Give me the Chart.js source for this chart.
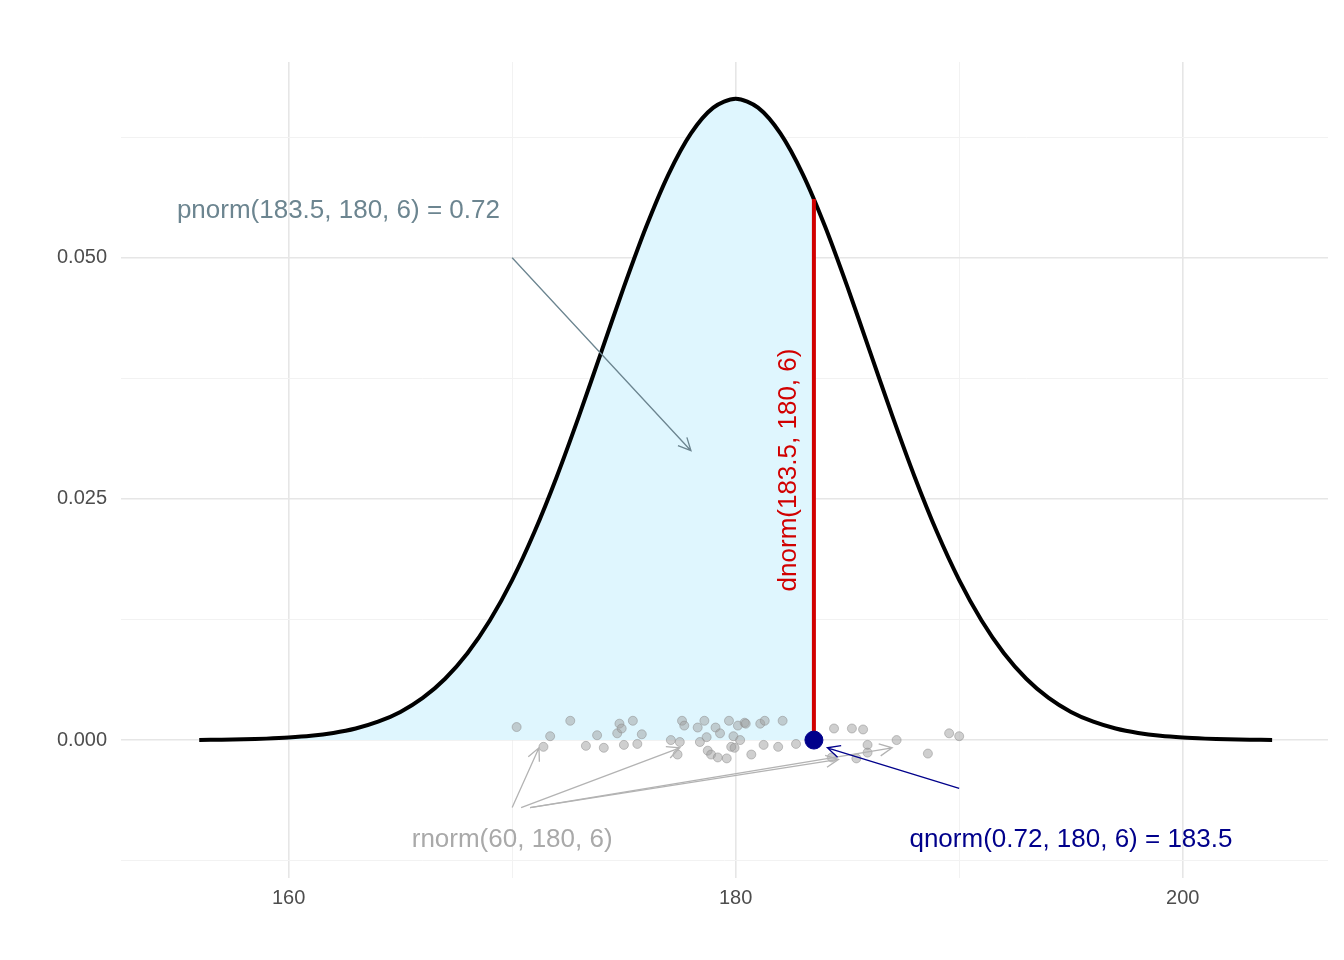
<!DOCTYPE html>
<html>
<head>
<meta charset="utf-8">
<script src="https://cdn.jsdelivr.net/npm/chart.js@4"></script>
<style>
  html, body { margin: 0; padding: 0; background: #fff; }
  #wrap { width: 1344px; height: 960px; }
</style>
</head>
<body>
<div id="wrap"><canvas id="chart" width="1344" height="960"></canvas></div>
<script>
// density curve (x = height, y = density)
const curveX = [156,157,158,159,160,161,162,163,164,165,166,167,168,169,170,171,172,173,174,175,176,177,178,179,180,
    181,182,183,184,185,186,187,188,189,190,191,192,193,194,195,196,197,198,199,200,201,202,203,204];
const curveY = [0.00002,0.00004,0.00008,0.00015,0.00026,0.00044,0.00074,0.00120,0.00190,0.00292,0.00437,0.00636,0.00900,
    0.01239,0.01658,0.02159,0.02733,0.03366,0.04033,0.04698,0.05324,0.05868,0.06290,0.06557,0.06649,
    0.06557,0.06290,0.05868,0.05324,0.04698,0.04033,0.03366,0.02733,0.02159,0.01658,0.01239,0.00900,0.00636,
    0.00437,0.00292,0.00190,0.00120,0.00074,0.00044,0.00026,0.00015,0.00008,0.00004,0.00002];
const cutX = 183.5;
const cutY = 0.05609;

// jittered sample points
const sampleX = [170.2,171.7,171.4,172.6,173.3,173.8,174.1,174.7,174.8,174.9,175.0,175.4,175.6,175.8,177.1,177.5,177.6,177.7,
    177.4,178.3,178.4,178.6,178.7,178.75,178.9,179.1,179.3,179.2,179.6,179.7,179.8,179.9,179.95,180.1,180.2,180.4,180.45,
    180.7,181.1,181.25,181.3,181.9,182.1,182.7,184.4,184.3,185.2,185.7,185.4,185.9,185.9,187.2,188.6,189.55,190.0];
const sampleY = [0.00135,0.0004,-0.0007,0.002,-0.0006,0.0005,-0.0008,0.0007,0.0017,0.0012,-0.0005,0.002,-0.0004,0.0006,0,
    -0.0002,0.002,0.0015,-0.0015,0.0013,-0.0002,0.002,0.0003,-0.0011,-0.0015,0.0013,0.0007,-0.0018,-0.0019,0.002,-0.0007,
    0.0004,-0.0008,0.0015,0,0.0018,0.0017,-0.0015,0.0017,-0.0005,0.002,-0.0007,0.002,-0.0004,0.0012,-0.0018,0.0012,0.0011,
    -0.0019,-0.0005,-0.0013,0,-0.0014,0.0007,0.0004];

const xTicks = [160, 180, 200];
const yTicks = [0, 0.025, 0.05];

// annotations: [x1, y1, x2, y2, colour]
const arrows = [
    [170, 0.050, 178.0, 0.0300, '#6c8590'],
    [170, -0.0070, 171.2, -0.0008, '#b3b3b3'],
    [170.4, -0.0070, 177.5, -0.0008, '#b3b3b3'],
    [170.8, -0.0070, 184.6, -0.0020, '#b3b3b3'],
    [170.8, -0.0070, 187.0, -0.0008, '#b3b3b3'],
    [190, -0.0050, 184.1, -0.0008, '#00008b'],
];
const labels = [
    ['pnorm(183.5, 180, 6) = 0.72', 155, 0.0549, '#6c8590', 'left', 0],
    ['rnorm(60, 180, 6)', 170, -0.0103, '#a9a9a9', 'center', 0],
    ['qnorm(0.72, 180, 6) = 183.5', 195, -0.0103, '#00008b', 'center', 0],
    ['dnorm(183.5, 180, 6)', 182.4, 0.028, '#d10000', 'center', -Math.PI / 2],
];

const shadeData = curveX.filter((x) => x <= cutX).map((x, i) => ({ x, y: curveY[i] }));
shadeData.push({ x: cutX, y: cutY });

const annotate = {
    id: 'annotate',
    afterDatasetsDraw(chart) {
        const { ctx, scales: { x, y } } = chart;
        ctx.save();
        arrows.forEach(([x1, y1, x2, y2, col]) => {
            const a = x.getPixelForValue(x1), b = y.getPixelForValue(y1);
            const c = x.getPixelForValue(x2), d = y.getPixelForValue(y2);
            const ang = Math.atan2(d - b, c - a);
            ctx.strokeStyle = col;
            ctx.lineWidth = 1.3;
            ctx.beginPath();
            ctx.moveTo(a, b);
            ctx.lineTo(c, d);
            ctx.moveTo(c - 14 * Math.cos(ang - 0.45), d - 14 * Math.sin(ang - 0.45));
            ctx.lineTo(c, d);
            ctx.lineTo(c - 14 * Math.cos(ang + 0.45), d - 14 * Math.sin(ang + 0.45));
            ctx.stroke();
        });
        ctx.font = '26px "Liberation Sans", Arial, sans-serif';
        ctx.textBaseline = 'middle';
        labels.forEach(([txt, lx, ly, col, align, rot]) => {
            ctx.save();
            ctx.translate(x.getPixelForValue(lx), y.getPixelForValue(ly));
            ctx.rotate(rot);
            ctx.fillStyle = col;
            ctx.textAlign = align;
            ctx.fillText(txt, 0, 0);
            ctx.restore();
        });
        ctx.restore();
    },
};

new Chart(document.getElementById('chart'), {
    type: 'scatter',
    data: {
        datasets: [
            {
                type: 'line',
                data: shadeData,
                borderWidth: 0,
                pointRadius: 0,
                fill: 'origin',
                backgroundColor: '#dff6fe',
                tension: 0.3,
                order: 5,
            },
            {
                data: sampleX.map((x, i) => ({ x, y: sampleY[i] })),
                pointRadius: 4.5,
                backgroundColor: 'rgba(160,160,160,0.5)',
                borderColor: 'rgba(140,140,140,0.5)',
                borderWidth: 1,
                order: 3,
            },
            {
                type: 'line',
                data: curveX.map((x, i) => ({ x, y: curveY[i] })),
                borderColor: '#000',
                borderWidth: 4,
                pointRadius: 0,
                tension: 0.3,
                order: 2,
            },
            {
                type: 'line',
                data: [{ x: cutX, y: 0 }, { x: cutX, y: cutY }],
                borderColor: '#d10000',
                borderWidth: 4,
                pointRadius: 0,
                order: 1,
            },
            {
                data: [{ x: cutX, y: 0 }],
                pointRadius: 9,
                backgroundColor: '#00008b',
                borderColor: '#00008b',
                order: 0,
            },
        ],
    },
    options: {
        responsive: false,
        animation: false,
        layout: { padding: { top: 62, right: 16, left: 0, bottom: 0 } },
        plugins: { legend: { display: false }, tooltip: { enabled: false } },
        scales: {
            x: {
                type: 'linear',
                min: 152.5,
                max: 206.5,
                afterBuildTicks: (s) => { s.ticks = [160, 170, 180, 190, 200].map((v) => ({ value: v })); },
                afterFit: (s) => { s.height = 82; },
                grid: { color: (c) => (xTicks.includes(c.tick.value) ? '#e6e6e6' : '#f2f2f2'), lineWidth: (c) => (xTicks.includes(c.tick.value) ? 1.6 : 1), drawTicks: false },
                border: { display: false },
                ticks: {
                    padding: 8,
                    color: '#4d4d4d',
                    font: { size: 20, family: '"Liberation Sans", Arial, sans-serif' },
                    callback: (v) => (xTicks.includes(v) ? String(v) : ''),
                },
            },
            y: {
                type: 'linear',
                min: -0.0143,
                max: 0.0703,
                afterBuildTicks: (s) => { s.ticks = [-0.0125, 0, 0.0125, 0.025, 0.0375, 0.05, 0.0625].map((v) => ({ value: v })); },
                afterFit: (s) => { s.width = 121; },
                grid: { color: (c) => (yTicks.includes(c.tick.value) ? '#e6e6e6' : '#f2f2f2'), lineWidth: (c) => (yTicks.includes(c.tick.value) ? 1.6 : 1), drawTicks: false },
                border: { display: false },
                ticks: {
                    padding: 14,
                    color: '#4d4d4d',
                    font: { size: 20, family: '"Liberation Sans", Arial, sans-serif' },
                    callback: (v) => (yTicks.includes(v) ? v.toFixed(3) : ''),
                },
            },
        },
    },
    plugins: [annotate],
});
</script>
</body>
</html>
